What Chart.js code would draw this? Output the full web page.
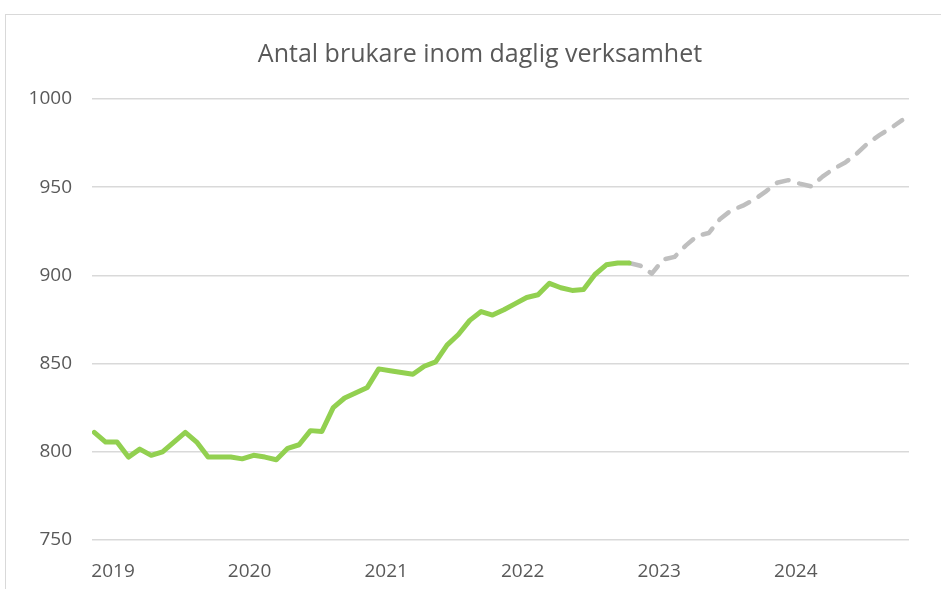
<!DOCTYPE html>
<html>
<head>
<meta charset="utf-8">
<script src="https://cdn.jsdelivr.net/npm/chart.js@4"></script>
<style>
  html, body { margin: 0; padding: 0; background: #fff; }
  #frame { position: absolute; left: 5px; top: 14px; width: 1000px; height: 700px; border: 1px solid #d9d9d9; }
  #wrap { position: absolute; left: 0; top: 0; width: 941px; height: 589px; }
</style>
</head>
<body>
<div id="frame"></div>
<div id="wrap"><canvas id="chart" width="941" height="589"></canvas></div>
<script>
// monthly values, Jan 2019 onwards
const years = ['2019', '2020', '2021', '2022', '2023', '2024'];
const monthNames = ['jan', 'feb', 'mar', 'apr', 'maj', 'jun', 'jul', 'aug', 'sep', 'okt', 'nov', 'dec'];

const actual = [
  811, 805.5, 805.5, 797, 801.5, 798, 800, 805.5, 811, 805.5, 797, 797,
  797, 796, 798, 797, 795.5, 802, 804, 812, 811.5, 825, 830.5, 833.5,
  836.5, 847, 846, 845, 844, 848.5, 851, 860.5, 866.5, 874.5, 879.5, 877.5,
  880.5, 884, 887.5, 889, 895.5, 893, 891.5, 892, 900.5, 906, 907, 907
];

// prognos starts at the last actual month
const forecastStart = 47;
const forecast = [
  907, 905.5, 901, 909, 910.5, 917, 922.5, 924, 932, 937, 939.5, 943, 947.5,
  952.5, 954, 952, 950.5, 956, 960.5, 964, 969, 975, 979.5, 983.5, 988
];

const yTicks = [750, 800, 850, 900, 950, 1000];

let months = [];
years.forEach(y => monthNames.forEach(m => months.push(m + ' ' + y)));

const titleText = 'Antal brukare inom daglig verksamhet';
const textColor = '#595959';
const font = "'Open Sans', 'Liberation Sans', sans-serif";

// title is a bit off-centre in the original, so draw it ourselves
const titlePlugin = {
  id: 'ownTitle',
  afterDraw(chart) {
    const c = chart.ctx;
    c.save();
    c.font = '25px ' + font;
    c.fillStyle = textColor;
    c.textAlign = 'center';
    c.textBaseline = 'middle';
    c.fillText(titleText, 480, 55);
    c.restore();
  }
};

var ctx = document.getElementById('chart');
new Chart(ctx, {
  type: 'line',
  data: {
    datasets: [{
      label: 'Utfall',
      data: actual.map((v, i) => ({ x: i, y: v })),
      borderColor: '#92D050',
      borderWidth: 5,
      borderJoinStyle: 'round',
      borderCapStyle: 'round',
      pointRadius: 0,
      fill: false,
      tension: 0
    }, {
      label: 'Prognos',
      data: forecast.map((v, i) => ({ x: i + forecastStart, y: v })),
      borderColor: '#BFBFBF',
      borderWidth: 4.5,
      borderDash: [12, 11],
      borderCapStyle: 'round',
      borderJoinStyle: 'round',
      pointRadius: 0,
      fill: false,
      tension: 0
    }]
  },
  plugins: [titlePlugin],
  options: {
    responsive: false,
    animation: false,
    layout: { padding: { left: 0, right: 32, top: 99, bottom: 0 } },
    plugins: {
      legend: { display: false },
      tooltip: { enabled: false },
      title: { display: false }
    },
    scales: {
      x: {
        type: 'linear',
        min: -0.2,
        max: 71.6,
        grid: { display: false },
        border: { display: false },
        afterBuildTicks: axis => {
          axis.ticks = years.map((y, i) => ({ value: i * 12 + 1.65 }));
        },
        afterFit: axis => { axis.height = 49; },
        ticks: {
          autoSkip: false,
          maxRotation: 0,
          padding: 12,
          color: textColor,
          font: { family: font, size: 19 },
          callback: (v, i) => years[i]
        }
      },
      y: {
        min: 750,
        max: 1000,
        afterBuildTicks: axis => {
          axis.ticks = yTicks.map(v => ({ value: v }));
        },
        afterFit: axis => { axis.width = 92; },
        grid: { color: '#d9d9d9', lineWidth: 1.5, drawTicks: false },
        border: { display: false },
        ticks: {
          padding: 20,
          color: textColor,
          font: { family: font, size: 19 },
          callback: v => String(v)
        }
      }
    }
  }
});
</script>
</body>
</html>
